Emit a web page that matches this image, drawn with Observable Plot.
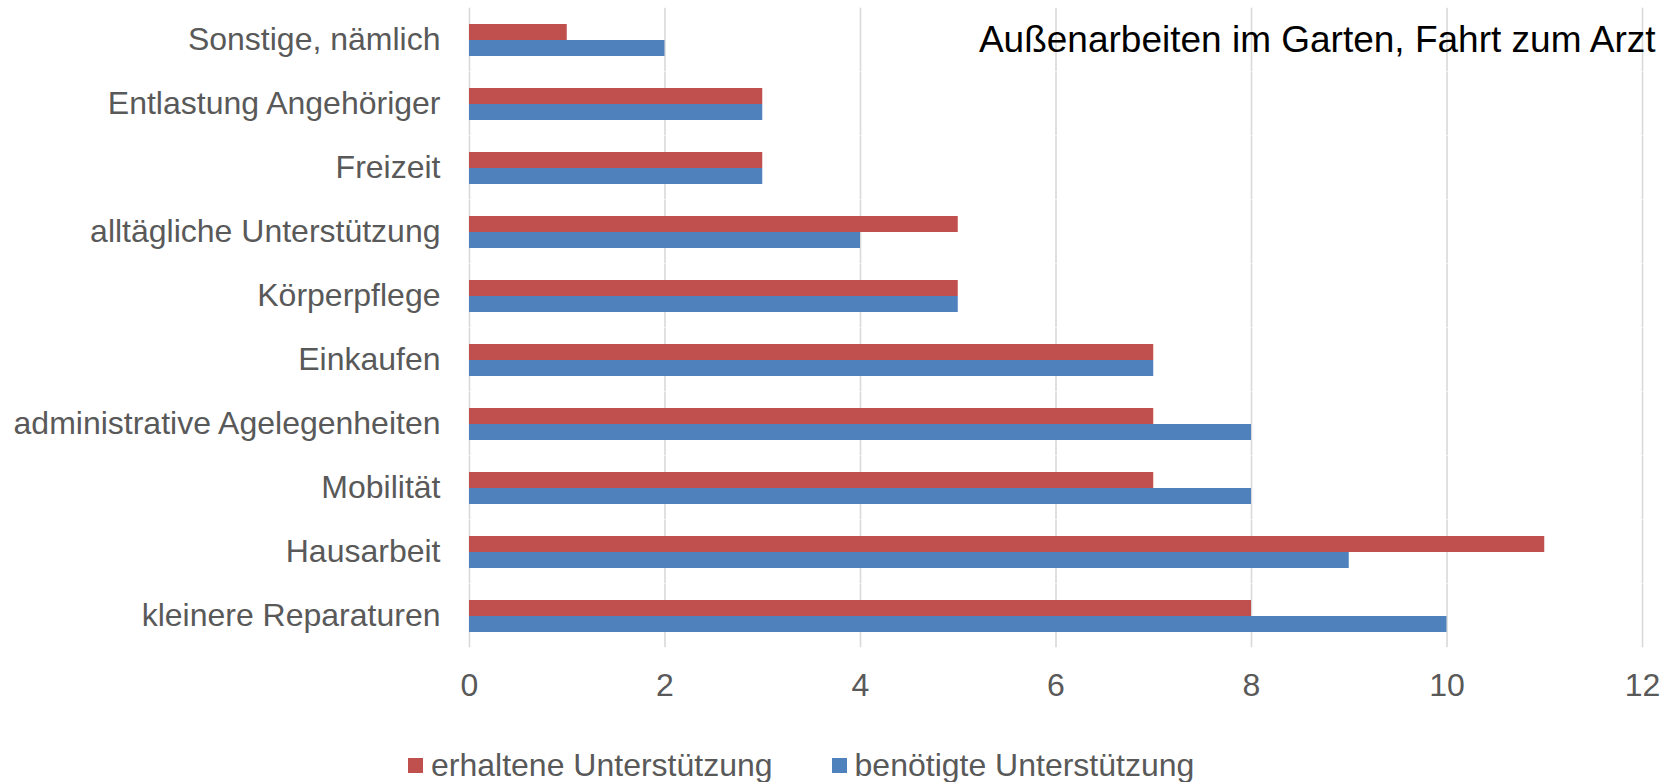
<!DOCTYPE html>
<html>
<head>
<meta charset="utf-8">
<script src="https://cdn.jsdelivr.net/npm/d3@7"></script>
<script src="https://cdn.jsdelivr.net/npm/@observablehq/plot@0.6"></script>
<style>
  html, body { margin: 0; padding: 0; background: #fff; }
  #chart { width: 1672px; }
  .legend { display: flex; align-items: center; height: 46px; padding-left: 408px;
    font-family: "Liberation Sans", Arial, sans-serif; font-size: 32px; color: #595959; }
  .legend .item { display: flex; align-items: center; margin-right: 59px; }
  .legend .sw { width: 15px; height: 15px; margin-right: 8px; }
</style>
</head>
<body>
<div id="chart"></div>
<script>
// Categories, top to bottom
const categories = [
  "Sonstige, nämlich",
  "Entlastung Angehöriger",
  "Freizeit",
  "alltägliche Unterstützung",
  "Körperpflege",
  "Einkaufen",
  "administrative Agelegenheiten",
  "Mobilität",
  "Hausarbeit",
  "kleinere Reparaturen"
];
const erhaltene = [1, 3, 3, 5, 5, 7, 7, 7, 11, 8];
const benoetigte = [2, 3, 3, 4, 5, 7, 8, 8, 9, 10];
const seriesNames = ["erhaltene Unterstützung", "benötigte Unterstützung"];
const seriesColors = ["#C0504D", "#4F81BD"];
const xTicks = [0, 2, 4, 6, 8, 10, 12];
const annotationText = "Außenarbeiten im Garten, Fahrt zum Arzt";
const annotationCategory = "Sonstige, nämlich";

const rows = [];
categories.forEach((c, i) => {
  rows.push({cat: c, series: seriesNames[0], value: erhaltene[i]});
  rows.push({cat: c, series: seriesNames[1], value: benoetigte[i]});
});

const chart = Plot.plot({
  width: 1672,
  height: 742,
  marginLeft: 469,
  marginRight: 30,
  marginTop: 8,
  marginBottom: 94,
  style: {fontFamily: "'Liberation Sans', Arial, sans-serif", fontSize: "32px", color: "#595959", background: "white"},
  x: {domain: [0, 12], ticks: xTicks, tickSize: 0, tickPadding: 41, label: null},
  y: {domain: seriesNames, padding: 0, axis: null},
  fy: {domain: categories, paddingInner: 0.477, paddingOuter: 0.2385, axis: "left", tickSize: 0, tickPadding: 29, label: null},
  color: {domain: seriesNames, range: seriesColors},
  marks: [
    Plot.ruleX(xTicks, {stroke: "#d9d9d9", strokeWidth: 1.6, insetTop: -15.3, insetBottom: -15.3}),
    Plot.barX(rows, {fy: "cat", y: "series", x: "value", fill: "series"}),
    Plot.text([annotationText], {fy: () => annotationCategory, text: d => d, frameAnchor: "top-right", textAnchor: "end", lineAnchor: "top", dx: 13, dy: 2, fill: "black", fontSize: 37})
  ]
});
document.getElementById("chart").appendChild(chart);

const legend = document.createElement("div");
legend.className = "legend";
seriesNames.forEach((s, i) => {
  const item = document.createElement("div");
  item.className = "item";
  const sw = document.createElement("div");
  sw.className = "sw";
  sw.style.background = seriesColors[i];
  const t = document.createElement("span");
  t.textContent = s;
  item.appendChild(sw);
  item.appendChild(t);
  legend.appendChild(item);
});
document.body.appendChild(legend);
</script>
</body>
</html>
